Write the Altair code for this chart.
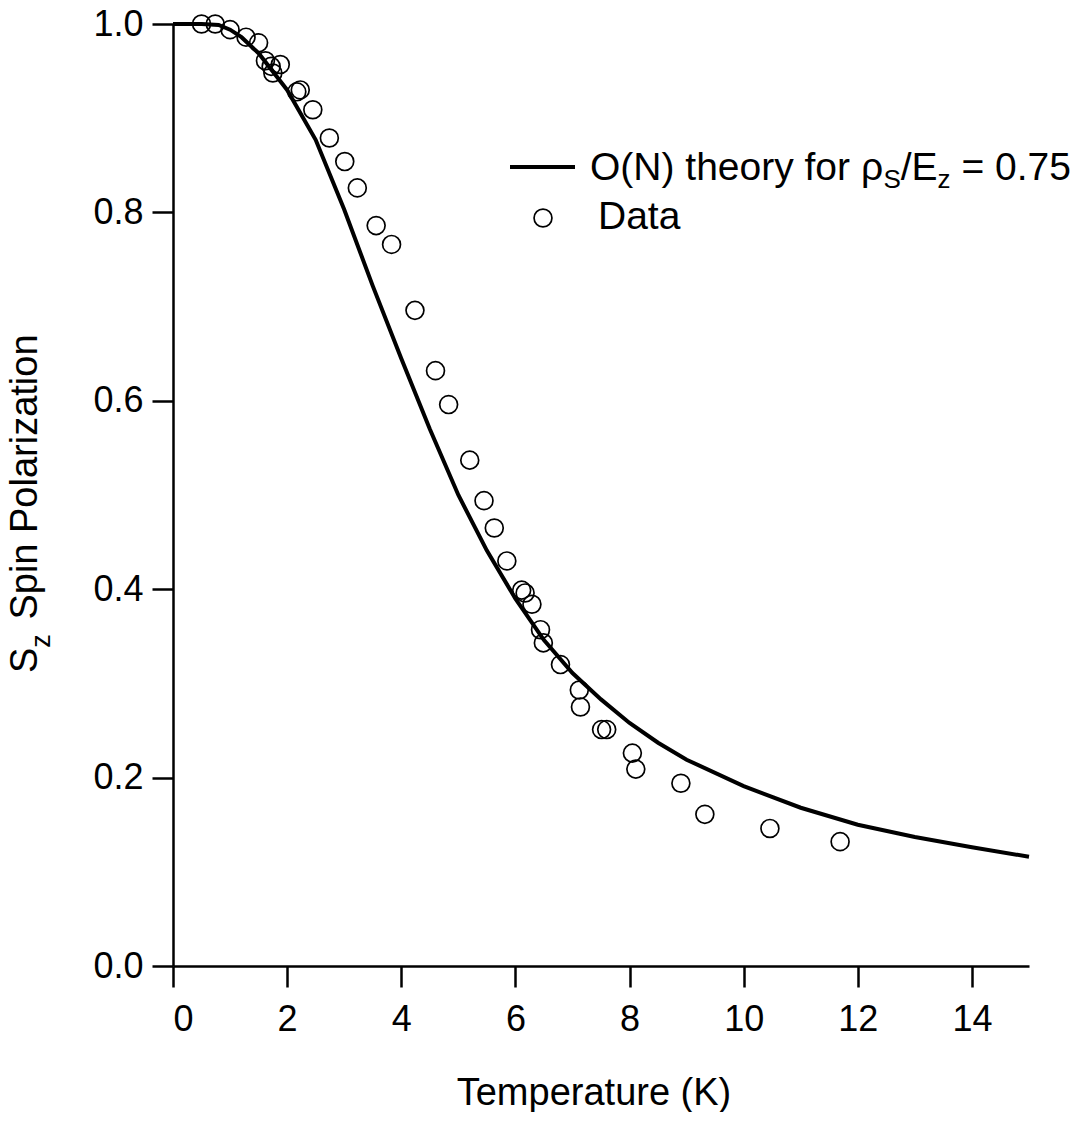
import altair as alt
import pandas as pd

# ---- data ----
theory_T = [0, 0.5, 0.8, 1.0, 1.2, 1.5, 2.0, 2.5, 3.0, 3.5, 4.0, 4.5, 5.0, 5.5,
            6.0, 6.5, 7.0, 7.5, 8.0, 8.5, 9.0, 10, 11, 12, 13, 14, 15]
theory_S = [1.0, 1.0, 0.999, 0.994, 0.986, 0.969, 0.930, 0.877, 0.803, 0.722,
            0.645, 0.570, 0.500, 0.441, 0.390, 0.346, 0.311, 0.283, 0.258, 0.237,
            0.219, 0.191, 0.168, 0.150, 0.137, 0.126, 0.116]

data_T = [0.50, 0.74, 1.00, 1.28, 1.50, 1.62, 1.72, 1.88, 1.75, 2.17, 2.23, 2.45,
          2.74, 3.01, 3.23, 3.56, 3.83, 4.24, 4.60, 4.83, 5.20, 5.45, 5.63, 5.85,
          6.11, 6.17, 6.29, 6.44, 6.49, 6.79, 7.12, 7.14, 7.51, 7.60, 8.05, 8.11,
          8.90, 9.32, 10.46, 11.69]
data_S = [1.000, 1.000, 0.994, 0.986, 0.980, 0.961, 0.955, 0.957, 0.948, 0.928,
          0.930, 0.909, 0.879, 0.854, 0.826, 0.786, 0.766, 0.696, 0.632, 0.596,
          0.537, 0.494, 0.465, 0.430, 0.399, 0.396, 0.384, 0.357, 0.343, 0.320,
          0.293, 0.275, 0.251, 0.251, 0.226, 0.209, 0.194, 0.161, 0.146, 0.132]

x_ticks = [0, 2, 4, 6, 8, 10, 12, 14]
y_ticks = [0.0, 0.2, 0.4, 0.6, 0.8, 1.0]

legend_line_label = ["O(N) theory for ρ", "S", "/E", "z", " = 0.75"]
legend_data_label = "Data"
x_title = "Temperature (K)"
y_title = ["S", "z", " Spin Polarization"]

FONT = "Liberation Sans"
W, H = 856, 942

AW = {'O': .778, '(': .333, 'N': .722, ')': .333, ' ': .278, 't': .278, 'h': .556,
      'e': .556, 'o': .556, 'r': .333, 'y': .5, 'f': .278, 'ρ': .577, 'S': .667,
      '/': .278, 'E': .667, 'z': .5, '=': .584, '0': .556, '.': .278, '7': .556,
      '5': .556, 'p': .556, 'i': .222, 'n': .556, 'P': .667, 'l': .222, 'a': .556}


def tw(s, size):
    return sum(AW.get(c, .556) for c in s) * size


one = pd.DataFrame({"a": [0]})


def txt(s, x, y, size, angle=0, align="left", baseline="alphabetic"):
    return alt.Chart(one).mark_text(
        text=s, font=FONT, fontSize=size, color="black", align=align,
        baseline=baseline, angle=angle
    ).encode(x=alt.value(x), y=alt.value(y))


xs = alt.Scale(domain=[0, 15], nice=False, zero=False)
ys = alt.Scale(domain=[0, 1], nice=False)

df_th = pd.DataFrame({"T": theory_T, "S": theory_S})
df_d = pd.DataFrame({"T": data_T, "S": data_S})

xaxis = alt.Axis(values=x_ticks, title=None, format="d", grid=False,
                 tickSize=21, labelPadding=15)
yaxis = alt.Axis(values=y_ticks, title=None, format=".1f", grid=False,
                 tickSize=21, labelPadding=9)

PT_SIZE = 320

line = alt.Chart(df_th).mark_line(color="black", strokeWidth=4).encode(
    x=alt.X("T:Q", scale=xs, axis=xaxis),
    y=alt.Y("S:Q", scale=ys, axis=yaxis),
)
pts = alt.Chart(df_d).mark_point(
    shape="circle", filled=False, color="black", size=PT_SIZE, strokeWidth=1.7, opacity=1
).encode(x=alt.X("T:Q", scale=xs), y=alt.Y("S:Q", scale=ys))

layers = []

# ---- legend ----
LF, LS = 39, 26
lx, ly = 417, 156
cx = lx
for i, piece in enumerate(legend_line_label):
    sub = i in (1, 3)
    size = LS if sub else LF
    lead = len(piece) - len(piece.lstrip(" "))
    cx += tw(" " * lead, size)
    s = piece.strip(" ")
    layers.append(txt(s, cx, ly + (8 if sub else 0), size))
    cx += tw(s, size)

leg_rule = alt.Chart(one).mark_rule(color="black", strokeWidth=4).encode(
    x=alt.value(337), x2=alt.value(402), y=alt.value(143))
leg_pt = alt.Chart(one).mark_point(
    shape="circle", filled=False, color="black", size=PT_SIZE, strokeWidth=1.7, opacity=1
).encode(x=alt.value(370), y=alt.value(194))
layers += [leg_rule, leg_pt, txt(legend_data_label, 425, 205, LF)]

# ---- axis titles ----
TF, TS = 38, 27
layers.append(txt(x_title, 421, 1081, TF, align="center"))
yy = 649
bx = -136
for i, piece in enumerate(y_title):
    sub = i == 1
    size = TS if sub else TF
    lead = len(piece) - len(piece.lstrip(" "))
    yy -= tw(" " * lead, size) + (4 if lead else 0)
    s = piece.strip(" ")
    layers.append(txt(s, bx + (13 if sub else 0), yy, size, angle=270))
    yy -= tw(s, size)

chart = alt.layer(line, pts, *layers).properties(
    width=W, height=H,
    autosize=alt.AutoSizeParams(type="none"),
    padding={"left": 165, "top": 16, "right": 54, "bottom": 146},
).configure_view(stroke=None).configure_axis(
    domainColor="black", domainWidth=2.5, tickColor="black", tickWidth=2.5,
    labelFont=FONT, labelFontSize=36, labelColor="black",
)

chart.save("out.html", embed_options={"renderer": "svg", "actions": False})
